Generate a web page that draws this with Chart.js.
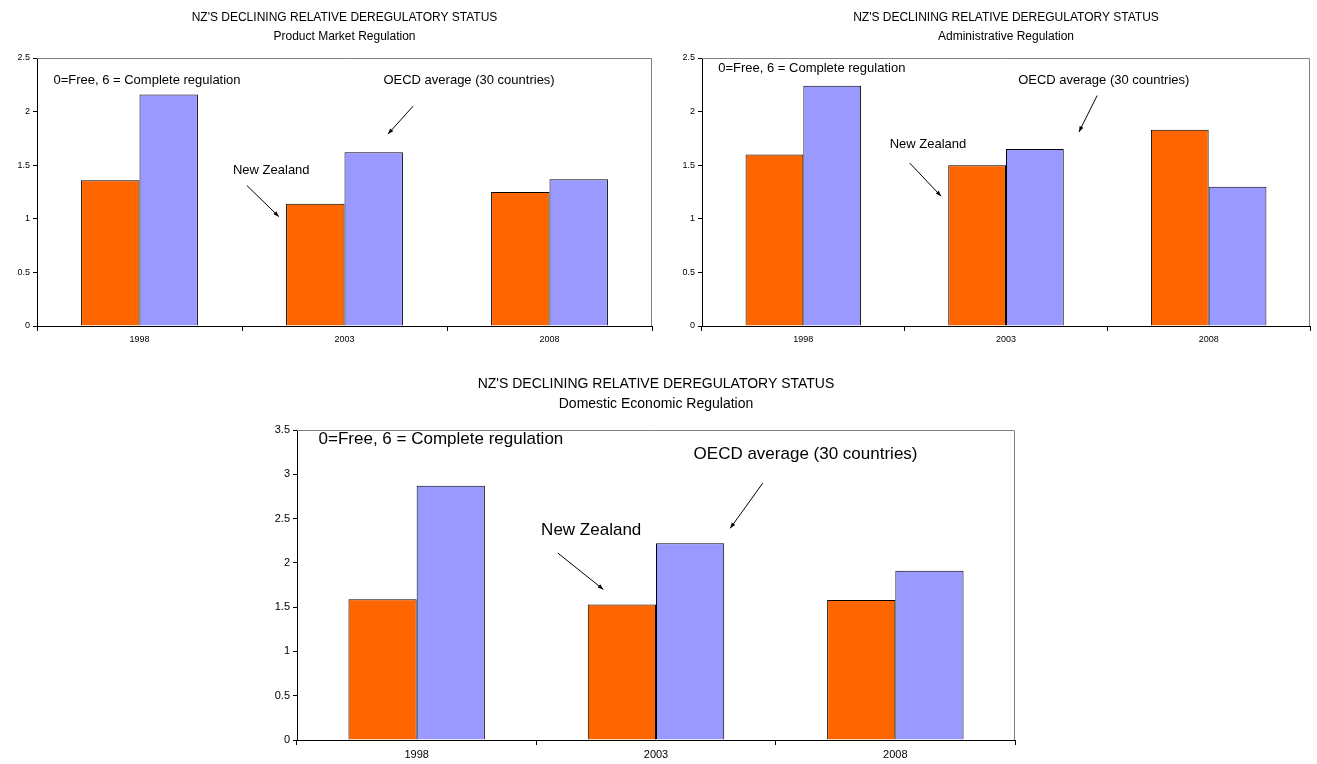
<!DOCTYPE html>
<html>
<head>
<meta charset="utf-8">
<script src="https://cdn.jsdelivr.net/npm/chart.js@4.4.0/dist/chart.umd.min.js"></script>
<style>
  body { margin: 0; background: #fff; width: 1317px; height: 764px; overflow: hidden; position: relative; }
  canvas { position: absolute; }
</style>
</head>
<body>
<canvas id="pmr" width="665" height="350" style="left:0;top:0"></canvas>
<canvas id="adm" width="652" height="350" style="left:665px;top:0"></canvas>
<canvas id="der" width="800" height="404" style="left:250px;top:360px"></canvas>
<script>
// categorias y valores
var years = ['1998', '2003', '2008'];
var seriesNames = ['New Zealand', 'OECD average (30 countries)'];
var pmrNZ = [1.36, 1.14, 1.25];
var pmrOECD = [2.16, 1.62, 1.37];
var admNZ = [1.60, 1.50, 1.83];
var admOECD = [2.24, 1.65, 1.30];
var derNZ = [1.59, 1.53, 1.58];
var derOECD = [2.87, 2.22, 1.91];
var mainTitle = "NZ'S DECLINING RELATIVE DEREGULATORY STATUS";
var subTitles = ['Product Market Regulation', 'Administrative Regulation', 'Domestic Economic Regulation'];
var scaleNote = '0=Free, 6 = Complete regulation';

var FONT = '"Liberation Sans", Arial, sans-serif';

// dibuja titulos, borde del area y anotaciones con flechas
var notesPlugin = {
    id: 'notes',
    afterDraw: function (chart, args, opts) {
        var ctx = chart.ctx;
        var a = chart.chartArea;
        var sx = chart.scales.x, sy = chart.scales.y;
        ctx.save();
        ctx.strokeStyle = '#808080';
        ctx.lineWidth = 1;
        ctx.beginPath();
        ctx.moveTo(a.left, a.top + 0.5);
        ctx.lineTo(Math.round(a.right) - 0.5, a.top + 0.5);
        ctx.lineTo(Math.round(a.right) - 0.5, a.bottom);
        ctx.stroke();

        ctx.fillStyle = '#000';
        ctx.textAlign = 'center';
        ctx.textBaseline = 'middle';
        ctx.font = opts.titleSize + 'px ' + FONT;
        for (var i = 0; i < opts.title.length; i++) {
            ctx.fillText(opts.title[i], (a.left + a.right) / 2, opts.titleY[i]);
        }

        ctx.textAlign = 'left';
        ctx.font = opts.noteSize + 'px ' + FONT;
        opts.texts.forEach(function (n) {
            ctx.fillText(n.t, sx.getPixelForValue(n.x), sy.getPixelForValue(n.y));
        });

        ctx.strokeStyle = '#000';
        opts.arrows.forEach(function (ar) {
            var x1 = sx.getPixelForValue(ar[0]), y1 = sy.getPixelForValue(ar[1]);
            var x2 = sx.getPixelForValue(ar[2]), y2 = sy.getPixelForValue(ar[3]);
            var ang = Math.atan2(y2 - y1, x2 - x1);
            var h = 6;
            ctx.beginPath();
            ctx.moveTo(x1, y1);
            ctx.lineTo(x2, y2);
            ctx.stroke();
            ctx.beginPath();
            ctx.moveTo(x2, y2);
            ctx.lineTo(x2 - h * Math.cos(ang - 0.35), y2 - h * Math.sin(ang - 0.35));
            ctx.lineTo(x2 - h * Math.cos(ang + 0.35), y2 - h * Math.sin(ang + 0.35));
            ctx.closePath();
            ctx.fill();
        });
        ctx.restore();
    }
};

function makeChart(id, nz, oecd, sub, yMax, g, notes) {
    return new Chart(document.getElementById(id), {
        type: 'bar',
        data: {
            labels: years,
            datasets: [
                { label: seriesNames[0], data: nz, backgroundColor: '#FF6600', borderColor: '#000', borderWidth: 1 },
                { label: seriesNames[1], data: oecd, backgroundColor: '#9999FF', borderColor: '#000', borderWidth: 1 }
            ]
        },
        options: {
            responsive: false,
            animation: false,
            layout: { padding: { top: g.top, right: g.right, left: 0, bottom: 0 } },
            categoryPercentage: 0.57,
            barPercentage: 1,
            plugins: {
                legend: { display: false },
                tooltip: { enabled: false },
                notes: {
                    title: [mainTitle, sub],
                    titleY: g.titleY,
                    titleSize: g.titleSize,
                    noteSize: g.noteSize,
                    texts: notes.texts,
                    arrows: notes.arrows
                }
            },
            scales: {
                x: {
                    afterFit: function (s) { s.height = g.xh; },
                    border: { color: '#000', width: 1 },
                    grid: { offset: true, drawOnChartArea: false, color: '#000', tickLength: 5 },
                    ticks: { color: '#000', font: { family: FONT, size: g.tick }, padding: 3 }
                },
                y: {
                    min: 0,
                    max: yMax,
                    afterFit: function (s) { s.width = g.yw; },
                    border: { color: '#000', width: 1 },
                    grid: { drawOnChartArea: false, color: '#000', tickLength: 4 },
                    ticks: {
                        stepSize: 0.5,
                        color: '#000',
                        font: { family: FONT, size: g.tick },
                        padding: 3,
                        callback: function (v) { return String(v); }
                    }
                }
            }
        },
        plugins: [notesPlugin]
    });
}

makeChart('pmr', pmrNZ, pmrOECD, subTitles[0], 2.5,
    { top: 58, right: 13, yw: 37, xh: 24, titleY: [18, 37], titleSize: 12, noteSize: 13, tick: 9 },
    {
        texts: [
            { t: scaleNote, x: -0.42, y: 2.29 },
            { t: seriesNames[1], x: 1.19, y: 2.29 },
            { t: seriesNames[0], x: 0.456, y: 1.45 }
        ],
        arrows: [[1.334, 2.05, 1.212, 1.79], [0.524, 1.31, 0.68, 1.02]]
    });

makeChart('adm', admNZ, admOECD, subTitles[1], 2.5,
    { top: 58, right: 7, yw: 37, xh: 24, titleY: [18, 37], titleSize: 12, noteSize: 13, tick: 9 },
    {
        texts: [
            { t: scaleNote, x: -0.42, y: 2.40 },
            { t: seriesNames[1], x: 1.06, y: 2.29 },
            { t: seriesNames[0], x: 0.426, y: 1.69 }
        ],
        arrows: [[1.45, 2.15, 1.36, 1.81], [0.525, 1.52, 0.68, 1.21]]
    });

makeChart('der', derNZ, derOECD, subTitles[2], 3.5,
    { top: 70, right: 35, yw: 47, xh: 24, titleY: [24, 44], titleSize: 14, noteSize: 17, tick: 11 },
    {
        texts: [
            { t: scaleNote, x: -0.41, y: 3.39 },
            { t: seriesNames[1], x: 1.157, y: 3.23 },
            { t: seriesNames[0], x: 0.52, y: 2.37 }
        ],
        arrows: [[1.446, 2.90, 1.31, 2.39], [0.59, 2.11, 0.78, 1.70]]
    });
</script>
</body>
</html>
